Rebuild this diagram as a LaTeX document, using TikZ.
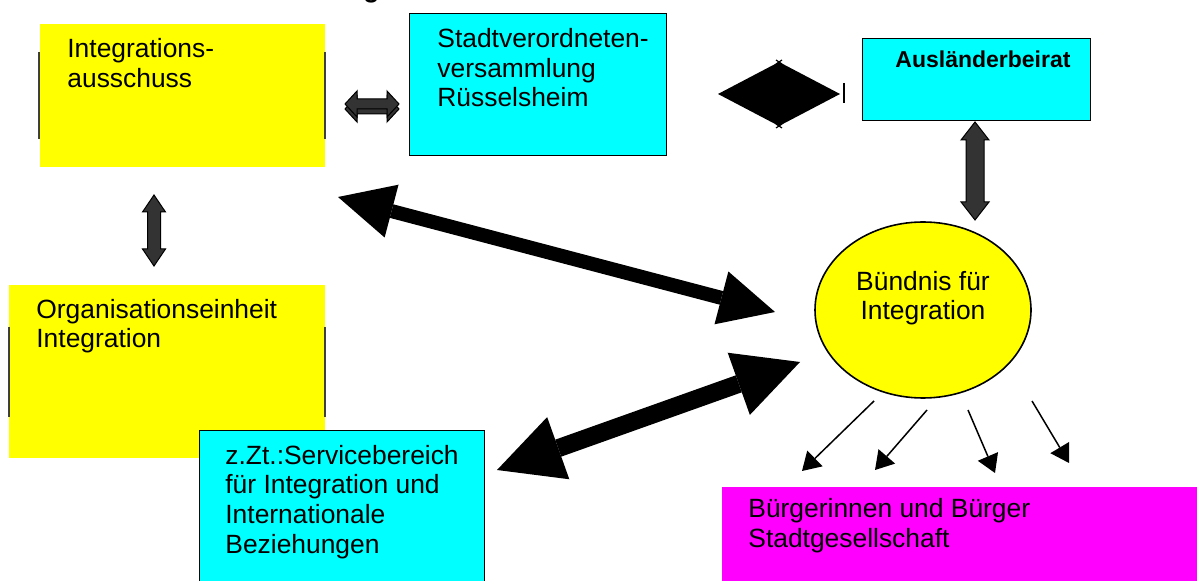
\documentclass[tikz,border=0pt]{standalone}
\usepackage{fontspec}
\setmainfont{Liberation Sans}
\usetikzlibrary{arrows.meta,positioning,shapes.geometric}

\definecolor{gelb}{RGB}{255,255,0}
\definecolor{tuerkis}{RGB}{0,255,255}
\definecolor{pink}{RGB}{255,0,255}

\tikzset{
  gelbbox/.style={fill=gelb, draw=none, inner sep=0pt, anchor=north west},
  cyanbox/.style={fill=tuerkis, draw=black, line width=0.7pt, inner sep=0pt, anchor=north west},
  pinkbox/.style={fill=pink, draw=none, inner sep=0pt, anchor=north west},
  txt/.style={inner sep=0pt, align=left, font=\fontsize{13.2}{14.8}\selectfont},
  randlinie/.style={draw=black!75, line width=0.6pt},
  blockarrow/.style={fill=black!80, draw=black, line width=0.5pt},
  bigarrowA/.style={line width=7pt,
    {Triangle[length=27.7pt,width=27.3pt,line width=0pt]}-{Triangle[length=27.7pt,width=27.3pt,line width=0pt]}},
  bigarrowB/.style={line width=9pt,
    {Triangle[length=32.5pt,width=33pt,line width=0pt]}-{Triangle[length=32.5pt,width=33pt,line width=0pt]}},
  thinarrow/.style={line width=0.75pt, -{Triangle[length=9pt,width=11pt,line width=0pt]}}
}

% double block arrow: centre x, centre y, angle, half length, head length, head half width, shaft half width
\newcommand{\dblblock}[7]{%
  \filldraw[blockarrow, shift={(#1,#2)}, rotate=#3]
    (-#4,0) -- (-#4+#5,#6) -- (-#4+#5,#7) -- (#4-#5,#7) -- (#4-#5,#6) -- (#4,0)
    -- (#4-#5,-#6) -- (#4-#5,-#7) -- (-#4+#5,-#7) -- (-#4+#5,-#6) -- cycle;}

\begin{document}
\begin{tikzpicture}[x=0.5pt,y=-0.5pt]
  \useasboundingbox (0,0) rectangle (1197,581);

  % boxes
  \node[gelbbox, minimum width=142.5pt, minimum height=71.5pt] (ausschuss) at (40,24) {};
  \node[gelbbox, minimum width=158pt, minimum height=86.5pt] (orgeinheit) at (9,285) {};
  \node[cyanbox, minimum width=128.5pt, minimum height=71pt] (stvv) at (409,13) {};
  \node[cyanbox, minimum width=114pt, minimum height=41pt] (beirat) at (862,38) {};
  \node[cyanbox, minimum width=142.5pt, minimum height=80pt] (service) at (199,430) {};
  \node[pinkbox, minimum width=241.5pt, minimum height=51.5pt] (buerger) at (722,487) {};
  \node[ellipse, fill=gelb, draw=black, line width=0.8pt, minimum width=108pt, minimum height=88pt,
    inner sep=0pt] (buendnis) at (923,310) {};

  % left and right edge lines of the yellow boxes
  \draw[randlinie] (39,52) -- (39,139);
  \draw[randlinie] (325,52) -- (325,139);
  \draw[randlinie] (9,327) -- (9,417);
  \draw[randlinie] (325,327) -- (325,417);

  % texts (base = baseline of the last line)
  \node[txt, anchor=base west] (ausschusstxt) at (67,87.5) {Integrations-\\ausschuss};
  \node[txt, anchor=base west] (orgtxt) at (36,348) {Organisationseinheit\\Integration};
  \node[txt, anchor=base west] (stvvtxt) at (437,107) {Stadtverordneten-\\versammlung\\Rüsselsheim};
  \node[txt, anchor=base west, font=\bfseries\fontsize{11.5}{13}\selectfont] (beirattxt) at (895,68) {Ausländerbeirat};
  \node[txt, anchor=base west] (servicetxt) at (225,553) {z.Zt.:Servicebereich\\für Integration und\\Internationale\\Beziehungen};
  \node[txt, anchor=base west] (buergertxt) at (748,547.5) {Bürgerinnen und Bürger\\Stadtgesellschaft};
  \node[txt, align=center, anchor=base] (buendnistxt) at (923,320) {Bündnis für\\Integration};
  \node[txt, anchor=base west, font=\bfseries\fontsize{13.2}{14.8}\selectfont] (titelg) at (363,-2.5) {g};

  % grey block arrows
  \dblblock{372}{109}{0}{27}{12}{13}{5}
  \dblblock{372}{104}{0}{27}{12}{13}{5}
  \dblblock{154}{230.5}{90}{35.5}{17}{11.5}{6.5}
  \dblblock{975}{171}{90}{49}{18}{14}{9}

  % black diamond between council and advisory board
  \fill (718,94) -- (779,62) -- (840,94) -- (779,126) -- cycle;
  \draw[line width=0.6pt] (844,83) -- (844,103);
  \draw[line width=0.6pt] (776,60) -- (782,64) (782,60) -- (776,64);
  \draw[line width=0.6pt] (776,124) -- (782,128) (782,124) -- (776,128);

  % big black arrows
  \coordinate (a1) at (338,197);
  \coordinate (a2) at (775,312);
  \draw[bigarrowA] (a1) -- (a2);
  \coordinate (b1) at (497,470);
  \coordinate (b2) at (800,362);
  \draw[bigarrowB] (b1) -- (b2);

  % thin arrows towards the citizens
  \coordinate (s1) at (874,401);  \coordinate (e1) at (802,471);
  \coordinate (s2) at (927,410);  \coordinate (e2) at (875,470);
  \coordinate (s3) at (968,410);  \coordinate (e3) at (995,473);
  \coordinate (s4) at (1032,401); \coordinate (e4) at (1069,463);
  \draw[thinarrow] (s1) -- (e1);
  \draw[thinarrow] (s2) -- (e2);
  \draw[thinarrow] (s3) -- (e3);
  \draw[thinarrow] (s4) -- (e4);
\end{tikzpicture}
\end{document}
